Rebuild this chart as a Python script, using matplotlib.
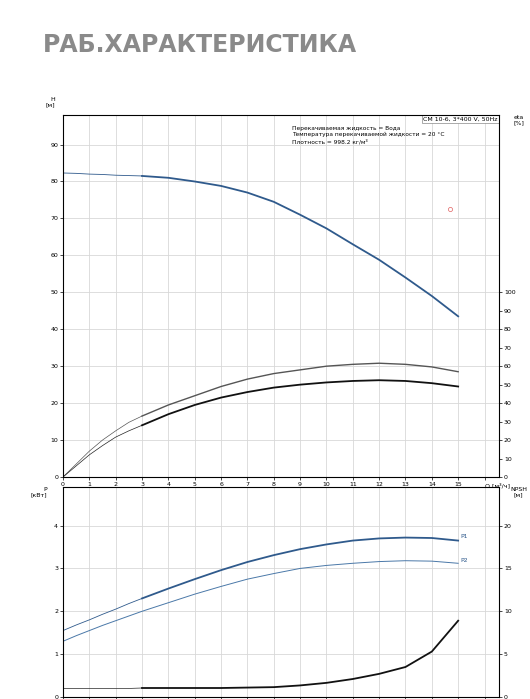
import numpy as np
import matplotlib.pyplot as plt

# --- data ---
q_full = [0, 0.5, 1, 1.5, 2, 2.5, 3, 4, 5, 6, 7, 8, 9, 10, 11, 12, 13, 14, 15]
h_full = [82.3, 82.2, 82.0, 81.9, 81.7, 81.6, 81.5, 81.0, 80.0, 78.8, 77.0, 74.5, 71.0,
          67.3, 63.0, 58.8, 54.0, 49.0, 43.5]
eta_top = [0, 7, 14, 20, 25, 29.6, 33, 39, 44, 49, 53, 56, 58, 60, 61, 61.6, 61, 59.6, 57]   # %
eta_bot = [0, 6, 12, 17, 21.6, 25, 28, 34, 39, 43, 46, 48.4, 50, 51.2, 52, 52.4, 52, 50.8, 49]  # %
p1 = [1.55, 1.68, 1.8, 1.93, 2.05, 2.18, 2.3, 2.53, 2.75, 2.96, 3.15, 3.31, 3.45, 3.56,
      3.65, 3.70, 3.72, 3.71, 3.65]
p2 = [1.30, 1.43, 1.55, 1.67, 1.78, 1.89, 2.0, 2.2, 2.4, 2.58, 2.75, 2.88, 3.0, 3.07,
      3.12, 3.16, 3.18, 3.17, 3.12]
npsh = [1.0, 1.0, 1.0, 1.0, 1.0, 1.0, 1.05, 1.05, 1.05, 1.05, 1.1, 1.15, 1.35, 1.65,
        2.1, 2.7, 3.5, 5.3, 8.9]
duty_q, duty_h = 14.7, 72.5

q = np.array(q_full)
thin = q <= 3
thick = q >= 3

fig = plt.figure(figsize=(5.3, 6.99), dpi=100)
fig.text(0.08, 0.925, "РАБ.ХАРАКТЕРИСТИКА", fontsize=17, fontweight='bold', color='#8a8a8a')

ax1 = fig.add_axes([63/530, 1-477/699, 436/530, 362/699])
ax2 = fig.add_axes([63/530, 1-697/699, 436/530, 210/699])
BLUE = '#2f5a8c'
LBLUE = '#4a78a8'

def style(ax):
    ax.set_xlim(0, 16.55)
    ax.set_xticks(range(0, 17))
    ax.grid(True, axis='x', color='#d8d8d8', lw=0.6)
    ax.grid(True, axis='y', color='#d8d8d8', lw=0.6)
    ax.tick_params(labelsize=4.5, length=2, width=0.5, pad=1.5)
    for s in ax.spines.values():
        s.set_linewidth(0.6)

style(ax1)
ax1.set_ylim(0, 98)
ax1.set_yticks(range(0, 91, 10))
ax1.set_xticklabels([str(i) for i in range(16)] + [''])
ax1.text(16, -1.6, "Q [м³/ч]", fontsize=4.5, ha='left', va='top')
ax1.plot(q[thin], np.array(h_full)[thin], color=BLUE, lw=0.6)
ax1.plot(q[thick], np.array(h_full)[thick], color=BLUE, lw=1.3)
ax1r = ax1.twinx()
ax1r.set_ylim(0, 196)
ax1r.set_yticks(range(0, 101, 10))
ax1r.tick_params(labelsize=4.5, length=2, width=0.5, pad=1.5)
ax1r.plot(q[thin], np.array(eta_top)[thin], color='#555555', lw=0.5)
ax1r.plot(q[thick], np.array(eta_top)[thick], color='#555555', lw=1.0)
ax1r.plot(q[thin], np.array(eta_bot)[thin], color='#222222', lw=0.5)
ax1r.plot(q[thick], np.array(eta_bot)[thick], color='#111111', lw=1.3)
ax1.plot(duty_q, duty_h, 'o', mfc='none', mec='#e06060', ms=3, mew=0.5)
ax1.text(-0.3, 100, "H\n[м]", fontsize=4.5, ha='right', va='bottom')
ax1r.text(17.3, 196, "eta\n[%]", fontsize=4.5, ha='center', va='top')
ax1.text(16.5, 97.5, "CM 10-6, 3*400 V, 50Hz", fontsize=4.5, ha='right', va='top',
         bbox=dict(fc='white', ec='#888888', lw=0.5, pad=1))
ax1.text(8.7, 95, "Перекачиваемая жидкость = Вода\nТемпература перекачиваемой жидкости = 20 °C\nПлотность = 998.2 кг/м³",
         fontsize=4.2, va='top', linespacing=1.3)

style(ax2)
ax2.set_ylim(0, 4.9)
ax2.set_yticks(range(0, 5))
ax2.set_xticklabels([])
ax2.plot(q[thin], np.array(p1)[thin], color=BLUE, lw=0.6)
ax2.plot(q[thick], np.array(p1)[thick], color=BLUE, lw=1.3)
ax2.plot(q, p2, color=LBLUE, lw=0.7)
ax2.text(15.1, 3.72, "P1", fontsize=4.5, color=BLUE)
ax2.text(15.1, 3.15, "P2", fontsize=4.5, color=BLUE)
ax2r = ax2.twinx()
ax2r.set_ylim(0, 24.5)
ax2r.set_yticks(range(0, 21, 5))
ax2r.tick_params(labelsize=4.5, length=2, width=0.5, pad=1.5)
ax2r.plot(q[thin], np.array(npsh)[thin], color='#222222', lw=0.5)
ax2r.plot(q[thick], np.array(npsh)[thick], color='#111111', lw=1.3)
ax2.text(-0.6, 4.9, "P\n[кВт]", fontsize=4.5, ha='right', va='top')
ax2r.text(17.3, 24.5, "NPSH\n[м]", fontsize=4.5, ha='center', va='top')

fig.savefig("out.png", dpi=100)
